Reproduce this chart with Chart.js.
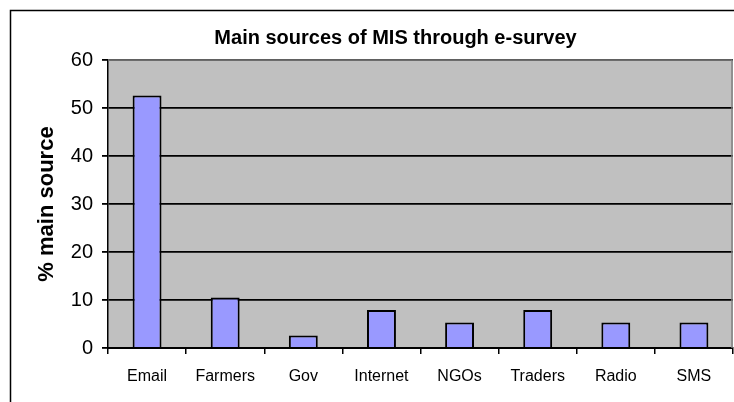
<!DOCTYPE html>
<html>
<head>
<meta charset="utf-8">
<script src="https://cdn.jsdelivr.net/npm/chart.js@4.4.0/dist/chart.umd.min.js"></script>
<style>
  html, body { margin: 0; padding: 0; background: #fff; }
  #wrap { width: 734px; height: 402px; }
</style>
</head>
<body>
<div id="wrap"><canvas id="chart" width="734" height="402"></canvas></div>
<script>
// data
const categories = ['Email', 'Farmers', 'Gov', 'Internet', 'NGOs', 'Traders', 'Radio', 'SMS'];
const shares = [52.6, 10.5, 2.6, 7.9, 5.3, 7.9, 5.3, 5.3];
const yTicks = [0, 10, 20, 30, 40, 50, 60];

const FONT = 'Arial, "Liberation Sans", sans-serif';

// grey plot area + outer frame, like the old Excel look
const frame = {
  id: 'frame',
  afterLayout(chart) {
    // title sits a bit right of the canvas centre
    if (chart.titleBlock) { chart.titleBlock.left += 23; chart.titleBlock.right += 23; }
  },
  beforeDraw(chart) {
    const { ctx, chartArea: a } = chart;
    ctx.save();
    ctx.fillStyle = '#ffffff';
    ctx.fillRect(0, 0, chart.width, chart.height);
    ctx.strokeStyle = '#000';
    ctx.lineWidth = 1.5;
    ctx.strokeRect(10.5, 10.5, 900, 600);
    ctx.fillStyle = '#c0c0c0';
    ctx.fillRect(a.left, a.top, a.right - a.left, a.bottom - a.top);
    ctx.restore();
  },
  beforeDatasetsDraw(chart) {
    const { ctx, chartArea: a } = chart;
    ctx.save();
    ctx.strokeStyle = '#808080';
    ctx.lineWidth = 1.5;
    ctx.beginPath();
    ctx.moveTo(a.left, a.top);
    ctx.lineTo(a.right - 1, a.top);
    ctx.lineTo(a.right - 1, a.bottom);
    ctx.stroke();
    ctx.restore();
  }
};

new Chart(document.getElementById('chart').getContext('2d'), {
  type: 'bar',
  data: {
    labels: categories,
    datasets: [{
      data: shares,
      backgroundColor: '#9999ff',
      borderColor: '#000',
      borderWidth: 2,
      categoryPercentage: 1,
      barPercentage: 0.37
    }]
  },
  options: {
    responsive: false,
    animation: false,
    layout: { padding: { left: 12, right: 1, top: 0, bottom: 0 } },
    plugins: {
      legend: { display: false },
      tooltip: { enabled: false },
      title: {
        display: true,
        text: 'Main sources of MIS through e-survey',
        color: '#000',
        font: { family: FONT, size: 20, weight: 'bold' },
        padding: { top: 26, bottom: 10 }
      }
    },
    scales: {
      x: {
        afterFit: s => { s.height = 54; },
        grid: { drawOnChartArea: false, drawTicks: true, tickLength: 6, color: '#000', lineWidth: 1.5 },
        border: { color: '#000', width: 2 },
        ticks: { color: '#000', font: { family: FONT, size: 16 }, padding: 13 }
      },
      y: {
        min: 0,
        max: 60,
        afterFit: s => { s.width = 96; },
        afterBuildTicks: s => { s.ticks = yTicks.map(v => ({ value: v })); },
        grid: { color: '#000', lineWidth: 1.8, tickLength: 6, drawTicks: true },
        border: { color: '#000', width: 1.5 },
        ticks: { color: '#000', font: { family: FONT, size: 20 }, padding: 9 },
        title: {
          display: true,
          text: '% main source',
          color: '#000',
          font: { family: FONT, size: 22, weight: 'bold' },
          padding: { top: 22, bottom: 0 }
        }
      }
    }
  },
  plugins: [frame]
});
</script>
</body>
</html>
